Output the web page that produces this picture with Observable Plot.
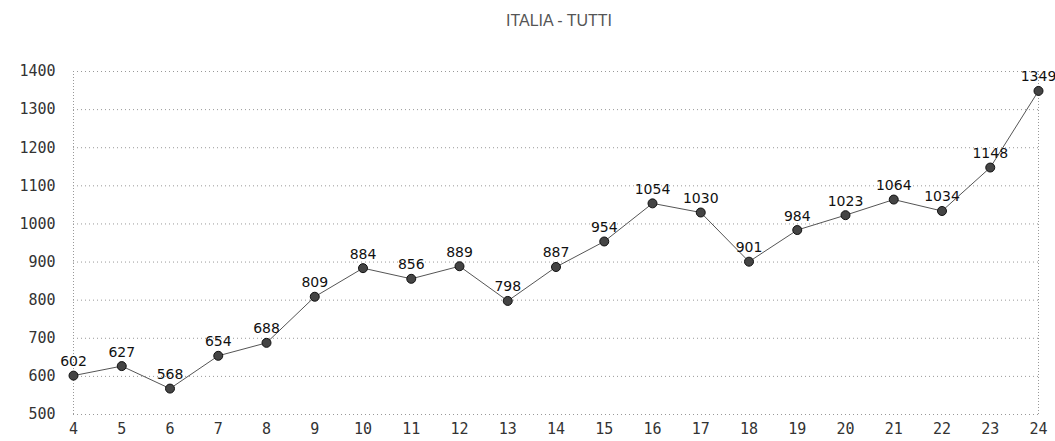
<!DOCTYPE html>
<html><head><meta charset="utf-8">
<script src="https://cdn.jsdelivr.net/npm/d3@7"></script>
<script src="https://cdn.jsdelivr.net/npm/@observablehq/plot@0.6"></script>
<style>
body{margin:0;background:#fff;}
#wrap{position:relative;width:1055px;height:441px;}
#title{position:absolute;left:0;top:12px;width:1118px;text-align:center;font:16px "Liberation Sans",sans-serif;color:#555;}
</style></head>
<body><div id="wrap"><div id="title">ITALIA - TUTTI</div></div>
<script>
const weeks = [4,5,6,7,8,9,10,11,12,13,14,15,16,17,18,19,20,21,22,23,24];
const values = [602,627,568,654,688,809,884,856,889,798,887,954,1054,1030,901,984,1023,1064,1034,1148,1349];
const yTicks = [500,600,700,800,900,1000,1100,1200,1300,1400];
const data = weeks.map((w,i)=>({w, v: values[i]}));

const chart = Plot.plot({
  width: 1055, height: 441,
  marginLeft: 73, marginRight: 17, marginTop: 71, marginBottom: 27,
  style: {fontFamily: "DejaVu Sans Mono, monospace", fontSize: "15px", color: "#333", background: "#fff"},
  x: {domain: [4,24], ticks: weeks, tickSize: 0, tickPadding: 9, label: null, tickFormat: d=>String(d)},
  y: {domain: [500,1400], ticks: yTicks, tickSize: 0, tickPadding: 18, label: null, tickFormat: d=>String(d)},
  marks: [
    Plot.ruleY(yTicks, {stroke: "#999", strokeDasharray: "1,3", strokeWidth: 1}),
    Plot.ruleX([4,24], {stroke: "#999", strokeDasharray: "1,2", strokeWidth: 1}),
    Plot.line(data, {x: "w", y: "v", stroke: "#555", strokeWidth: 1}),
    Plot.dot(data, {x: "w", y: "v", r: 4.5, fill: "#444", stroke: "#111", strokeWidth: 1}),
    Plot.text(data, {x: "w", y: "v", text: d=>String(d.v), dy: -14, fontSize: 14, fill: "#111", fontFamily: "DejaVu Sans, sans-serif"})
  ]
});
document.getElementById("wrap").appendChild(chart);
</script>
</body></html>
